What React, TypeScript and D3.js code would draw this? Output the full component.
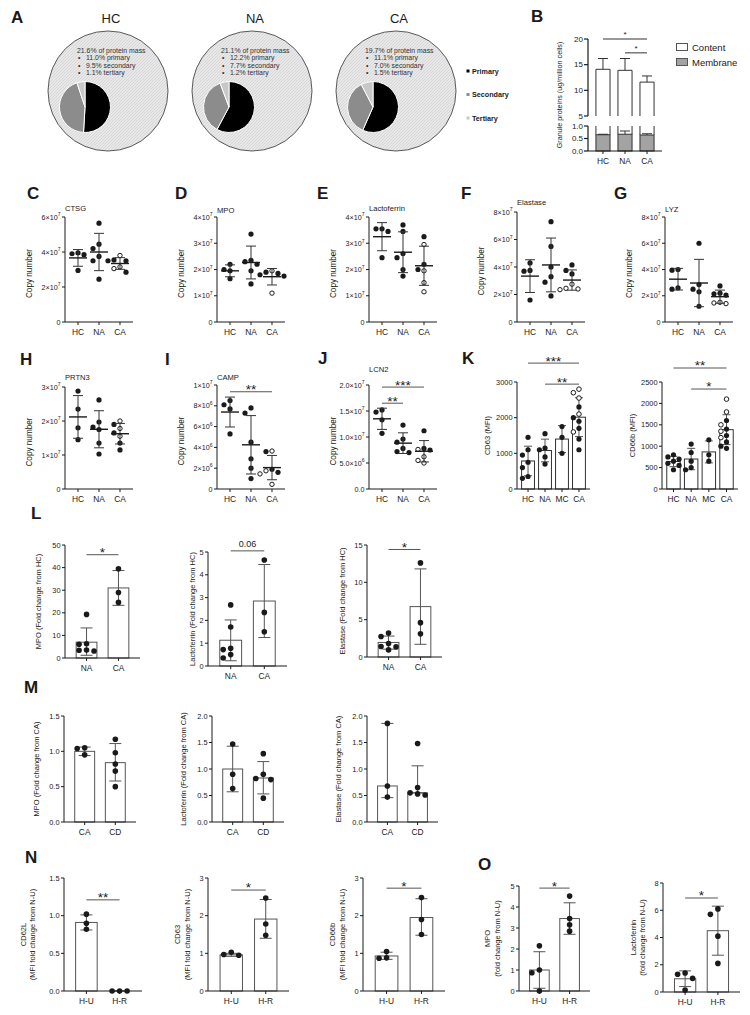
import React from "react";
import * as d3 from "d3";

const FONT = "'Liberation Sans', Arial, Helvetica, sans-serif";
const INK = "#1a1a1a";
const GREY = "#555555";

// ---------- A: granule share of protein mass
const pieCohorts = ["HC", "NA", "CA"];
const proteinMass = ["21.6%", "21.1%", "19.7%"];
const primaryPct = [11.0, 12.2, 11.1];
const secondaryPct = [9.5, 7.7, 7.0];
const tertiaryPct = [1.1, 1.2, 1.5];
const granuleTypes = ["Primary", "Secondary", "Tertiary"];

// ---------- B: granule proteins (ug/million cells)
const bCohorts = ["HC", "NA", "CA"];
const contentMean = [14.1, 13.9, 11.6];
const contentSd = [2.1, 2.3, 1.2];
const membraneMean = [0.65, 0.67, 0.64];
const membraneSd = [0.02, 0.13, 0.05];
const bUpperTicks = [5, 10, 15, 20];
const bLowerTicks = [0, 0.5, 1.0];
const bLowerLabels = ["0.0", "0.5", "1.0"];

// ---------- C-J: copy numbers (filled = closed symbols, open = open symbols)
const cohorts = ["HC", "NA", "CA"];
const ctsgFilled = [[3.95, 3.9, 3.85, 2.95], [5.65, 4.45, 4.2, 3.75, 3.5, 2.45], [3.55, 3.5, 3.5, 2.85]];
const ctsgOpen = [[], [], [3.8, 3.15, 3.05]];
const ctsgTicks = [0, 2, 4, 6];
const ctsgLabels = ["0", "2×10^7", "4×10^7", "6×10^7"];

const mpoFilled = [[2.2, 2.0, 1.95, 1.65], [3.35, 2.35, 2.3, 2.2, 1.95, 1.45], [1.9, 1.85, 1.8, 1.75]];
const mpoOpen = [[], [], [1.95, 1.1]];
const e7Ticks4 = [0, 1, 2, 3, 4];
const e7Labels4 = ["0", "1×10^7", "2×10^7", "3×10^7", "4×10^7"];

const ltfFilled = [[3.55, 3.55, 3.45, 2.45], [3.7, 3.45, 2.6, 2.45, 2.0, 1.75], [3.25, 2.2, 2.0]];
const ltfOpen = [[], [], [2.95, 1.95, 1.5, 1.15]];

const elaFilled = [[4.3, 3.75, 3.7, 1.6], [7.3, 5.5, 4.0, 3.3, 2.9, 1.9], [4.15, 3.75, 3.5]];
const elaOpen = [[], [], [2.75, 2.45, 2.4, 2.35]];
const e7Ticks8 = [0, 2, 4, 6, 8];
const e7Labels8 = ["0", "2×10^7", "4×10^7", "6×10^7", "8×10^7"];

const lyzFilled = [[4.0, 3.95, 2.6, 2.5], [6.0, 2.85, 2.5, 2.3, 1.2], [2.75, 2.2, 2.15, 2.05]];
const lyzOpen = [[], [], [1.5, 1.45, 1.4]];

const prtn3Filled = [[2.88, 2.35, 1.8, 1.45], [2.62, 1.97, 1.82, 1.75, 1.35, 1.03], [1.9, 1.65, 1.35, 1.15]];
const prtn3Open = [[], [], [2.0, 1.78, 1.55]];
const prtn3Ticks = [0, 1, 2, 3];
const prtn3Labels = ["0", "1×10^7", "2×10^7", "3×10^7"];

// CAMP in units of 10^6
const campFilled = [[8.5, 8.1, 7.7, 5.3], [7.8, 7.3, 4.5, 2.9, 2.0, 1.0], [3.6, 1.9, 1.6]];
const campOpen = [[], [], [3.65, 1.75, 1.45, 0.45]];
const campTicks = [0, 2, 4, 6, 8, 10];
const campLabels = ["0", "2×10^6", "4×10^6", "6×10^6", "8×10^6", "1×10^7"];

const lcn2Filled = [[1.52, 1.48, 1.33, 1.07], [1.23, 0.96, 0.9, 0.78, 0.72, 0.7], [1.12, 0.78, 0.75]];
const lcn2Open = [[], [], [0.76, 0.62, 0.55, 0.5]];
const lcn2Ticks = [0, 0.5, 1, 1.5, 2];
const lcn2Labels = ["0.0", "5.0×10^6", "1.0×10^7", "1.5×10^7", "2.0×10^7"];

// ---------- K: surface markers (MFI)
const kCohorts = ["HC", "NA", "MC", "CA"];
const cd63Filled = [[1450, 1100, 950, 750, 600, 350, 300], [1550, 1150, 1100, 900, 700], [1750, 1450, 1000], [2300, 2000, 1900, 1700, 1400, 1100]];
const cd63Open = [[], [], [], [2800, 2700, 2550, 2100, 1600]];
const cd63Ticks = [0, 1000, 2000, 3000];
const cd66bFilled = [[800, 750, 700, 650, 600, 550, 450], [1050, 850, 650, 500, 450], [1150, 800, 650], [1600, 1400, 1250, 1100, 1000, 950]];
const cd66bOpen = [[], [], [], [2100, 1800, 1500, 1350, 1200]];
const cd66bTicks = [0, 500, 1000, 1500, 2000, 2500];

// ---------- L: fold change from HC
const lCohorts = ["NA", "CA"];
const lMpoPts = [[19.3, 6.3, 6.1, 3.5, 3.4, 3.1], [39.5, 29, 24.6]];
const lMpoBar = [7.0, 31.0];
const lMpoLo = [1.2, 23.3];
const lMpoHi = [13.3, 38.7];
const lLtfPts = [[2.68, 1.71, 0.78, 0.72, 0.5, 0.35], [4.65, 2.35, 1.5]];
const lLtfBar = [1.13, 2.85];
const lLtfLo = [0.23, 1.25];
const lLtfHi = [2.02, 4.45];
const lElaPts = [[3.2, 2.75, 1.8, 1.4, 1.35, 0.95], [12.6, 4.6, 3.1]];
const lElaBar = [1.95, 6.75];
const lElaLo = [1.05, 1.7];
const lElaHi = [2.8, 11.8];

// ---------- M: fold change from CA
const mCohorts = ["CA", "CD"];
const mMpoPts = [[1.05, 1.04, 0.95], [1.17, 0.98, 0.82, 0.72, 0.5]];
const mMpoBar = [1.0, 0.84];
const mMpoLo = [0.94, 0.58];
const mMpoHi = [1.06, 1.11];
const mLtfPts = [[1.47, 0.9, 0.63], [1.29, 0.9, 0.82, 0.8, 0.45]];
const mLtfBar = [1.0, 0.83];
const mLtfLo = [0.57, 0.53];
const mLtfHi = [1.43, 1.14];
const mElaPts = [[1.86, 0.68, 0.47], [1.48, 0.65, 0.55, 0.53, 0.51]];
const mElaBar = [0.68, 0.55];
const mElaLo = [0.46, 0.55];
const mElaHi = [1.86, 1.06];

// ---------- N, O: fold change from N-U
const nCohorts = ["H-U", "H-R"];
const nCd62lPts = [[1.02, 0.9, 0.82], [0, 0, 0]];
const nCd62lBar = [0.91, 0];
const nCd62lLo = [0.81, 0];
const nCd62lHi = [1.01, 0];
const nCd63Pts = [[1.03, 0.97, 0.95], [2.47, 1.78, 1.48]];
const nCd63Bar = [0.96, 1.91];
const nCd63Lo = [0.92, 1.4];
const nCd63Hi = [1.0, 2.43];
const nCd66bPts = [[1.05, 0.88, 0.87], [2.48, 1.9, 1.5]];
const nCd66bBar = [0.93, 1.95];
const nCd66bLo = [0.84, 1.48];
const nCd66bHi = [1.03, 2.45];
const oMpoPts = [[2.15, 1.0, 0.87, 0.0], [4.52, 3.45, 3.15, 2.85]];
const oMpoBar = [1.0, 3.45];
const oMpoLo = [0.13, 2.7];
const oMpoHi = [1.87, 4.2];
const oLtfPts = [[1.4, 1.3, 1.0, 0.15], [6.1, 5.7, 4.1, 2.1]];
const oLtfBar = [0.97, 4.5];
const oLtfLo = [0.4, 2.7];
const oLtfHi = [1.55, 6.3];

type Pt = { v: number; open: boolean };
type Sig = { a: string; b: string; at: number; label: string };

const asPts = (filled: number[][], open?: number[][]): Pt[][] =>
  filled.map((f, i) => [
    ...f.map((v) => ({ v, open: false })),
    ...((open && open[i]) || []).map((v) => ({ v, open: true })),
  ]);

// simple beeswarm so that tied values sit side by side
function swarm(pts: Pt[], y: (v: number) => number, r: number, step: number) {
  const placed: { dx: number; py: number; open: boolean }[] = [];
  [...pts].sort((a, b) => b.v - a.v).forEach((p) => {
    const py = y(p.v);
    let dx = 0;
    for (let k = 0; k < 14; k++) {
      const cand = k === 0 ? 0 : (k % 2 ? -1 : 1) * Math.ceil(k / 2) * step;
      if (placed.every((q) => Math.hypot(q.dx - cand, q.py - py) >= 2 * r + 0.4)) {
        dx = cand;
        break;
      }
    }
    placed.push({ dx, py, open: p.open });
  });
  return placed;
}

const Letter = ({ x, y, t }: any) => (
  <text x={x} y={y} fontSize={17} fontWeight="bold" fill={INK}>{t}</text>
);

function TickLabel({ x, y, label, size }: any) {
  const [base, exp] = String(label).split("^");
  return (
    <text x={x} y={y} textAnchor="end" dominantBaseline="central" fontSize={size} fill={INK}>
      {base}
      {exp !== undefined && (
        <tspan fontSize={size * 0.7} dy={-size * 0.38}>{exp}</tspan>
      )}
    </text>
  );
}

function RotLabel({ x, y, text, size = 7.6 }: any) {
  return (
    <text transform={`translate(${x},${y}) rotate(-90)`} textAnchor="middle" dominantBaseline="central" fontSize={size} fill={INK}>
      {text}
    </text>
  );
}

function YAxis({ x0, x1, yZero, yTop, y, ticks, labels, size = 7.2 }: any) {
  return (
    <g>
      <line x1={x0} x2={x0} y1={yZero} y2={yTop} stroke={INK} strokeWidth={1} />
      <line x1={x0} x2={x1} y1={yZero} y2={yZero} stroke={INK} strokeWidth={1} />
      {ticks.map((t: number, i: number) => (
        <g key={i}>
          <line x1={x0 - 3} x2={x0} y1={y(t)} y2={y(t)} stroke={INK} strokeWidth={1} />
          <TickLabel x={x0 - 4.5} y={y(t)} label={labels[i]} size={size} />
        </g>
      ))}
    </g>
  );
}

function SigMark({ x1, x2, y, label, size = 13.5 }: any) {
  const isStar = label.includes("*");
  return (
    <g>
      <line x1={x1} x2={x2} y1={y} y2={y} stroke={GREY} strokeWidth={1} />
      <text x={(x1 + x2) / 2} y={isStar ? y + size * 0.18 : y - 4} textAnchor="middle" fontSize={isStar ? size : 9} fill={INK}>
        {label}
      </text>
    </g>
  );
}

// ---------- copy number dot plots (mean ± SD)
function DotPanel(p: any) {
  const x = d3.scalePoint<string>().domain(p.groups).range([p.x0, p.x0 + p.len]).padding(0.62);
  const y = d3.scaleLinear().domain([0, p.max]).range([p.yZero, p.yTop]);
  const pts = asPts(p.filled, p.open);
  return (
    <g>
      <YAxis x0={p.x0} x1={p.x0 + p.len} yZero={p.yZero} yTop={p.yTop} y={y} ticks={p.ticks} labels={p.labels} />
      <text x={p.x0} y={p.titleY} dominantBaseline="central" fontSize={7.6} fill={INK}>{p.title}</text>
      <RotLabel x={p.x0 - 36} y={(p.yZero + p.yTop) / 2 + 4} text="Copy number" size={8.2} />
      {p.groups.map((g: string, gi: number) => {
        const cx = x(g)!;
        const vals = pts[gi].map((d) => d.v);
        const m = d3.mean(vals)!;
        const sd = d3.deviation(vals) || 0;
        return (
          <g key={g}>
            <line x1={cx} x2={cx} y1={p.yZero} y2={p.yZero + 3} stroke={INK} />
            <text x={cx} y={p.yZero + 10} textAnchor="middle" dominantBaseline="central" fontSize={8.4} fill={INK}>{g}</text>
            {swarm(pts[gi], y, 2.6, 6).map((q, k) => (
              <circle key={k} cx={cx + q.dx} cy={q.py} r={q.open ? 2.2 : 2.6} fill={q.open ? "#fff" : INK} stroke={INK} strokeWidth={q.open ? 1 : 0} />
            ))}
            <line x1={cx} x2={cx} y1={y(m - sd)} y2={y(m + sd)} stroke="#333" strokeWidth={1} />
            <line x1={cx - 5} x2={cx + 5} y1={y(m - sd)} y2={y(m - sd)} stroke="#333" strokeWidth={1} />
            <line x1={cx - 5} x2={cx + 5} y1={y(m + sd)} y2={y(m + sd)} stroke="#333" strokeWidth={1} />
            <line x1={cx - 9} x2={cx + 9} y1={y(m)} y2={y(m)} stroke={INK} strokeWidth={1.4} />
          </g>
        );
      })}
      {(p.sigs || []).map((s: Sig, i: number) => (
        <SigMark key={i} x1={x(s.a)!} x2={x(s.b)!} y={y(s.at)} label={s.label} />
      ))}
    </g>
  );
}

// ---------- bar + dots + error bar panels
function BarPanel(p: any) {
  const x = d3.scaleBand<string>().domain(p.groups).range([p.x0, p.x1]).paddingInner(p.pi ?? 0.35).paddingOuter(p.po ?? 0.35);
  const y = d3.scaleLinear().domain([0, p.max]).range([p.yZero, p.yTop]);
  const bw = x.bandwidth();
  const cap = p.cap ?? 6;
  const mid = (p.yZero + p.yTop) / 2;
  return (
    <g>
      {p.groups.map((g: string, gi: number) => {
        const bx = x(g)!;
        const cx = bx + bw / 2;
        return (
          <g key={g}>
            <rect x={bx} y={y(p.bar[gi])} width={bw} height={p.yZero - y(p.bar[gi])} fill="#fff" stroke={p.barStroke ?? GREY} strokeWidth={1} />
            <line x1={cx} x2={cx} y1={y(p.lo[gi])} y2={y(p.hi[gi])} stroke={GREY} strokeWidth={1} />
            <line x1={cx - cap} x2={cx + cap} y1={y(p.lo[gi])} y2={y(p.lo[gi])} stroke={GREY} strokeWidth={1} />
            <line x1={cx - cap} x2={cx + cap} y1={y(p.hi[gi])} y2={y(p.hi[gi])} stroke={GREY} strokeWidth={1} />
            {swarm(p.pts[gi], y, p.r ?? 2.8, p.step ?? 7.5).map((q, k) => (
              <circle key={k} cx={cx + q.dx} cy={q.py} r={q.open ? 2.3 : p.r ?? 2.8} fill={q.open ? "#fff" : INK} stroke={INK} strokeWidth={q.open ? 1 : 0} />
            ))}
            <line x1={cx} x2={cx} y1={p.yZero} y2={p.yZero + 3} stroke={INK} />
            <text x={cx} y={p.yZero + 10} textAnchor="middle" dominantBaseline="central" fontSize={8.4} fill={INK}>{g}</text>
          </g>
        );
      })}
      <YAxis x0={p.x0} x1={p.x1} yZero={p.yZero} yTop={p.yTop} y={y} ticks={p.ticks} labels={p.labels} size={7.4} />
      {p.ylabel.map((t: string, i: number) => (
        <RotLabel key={i} x={p.ylabelX[i]} y={mid} text={t} size={7.5} />
      ))}
      {(p.sigs || []).map((s: Sig, i: number) => (
        <SigMark key={i} x1={x(s.a)! + bw / 2} x2={x(s.b)! + bw / 2} y={y(s.at)} label={s.label} size={p.starSize ?? 13.5} />
      ))}
    </g>
  );
}

function kStats(filled: number[][], open: number[][]) {
  const pts = asPts(filled, open);
  const m = pts.map((g) => d3.mean(g, (d) => d.v)!);
  const sd = pts.map((g) => d3.deviation(g, (d) => d.v) || 0);
  return { pts, bar: m, lo: m.map((v, i) => v - sd[i]), hi: m.map((v, i) => v + sd[i]) };
}

function PanelA() {
  const cx = d3.scalePoint<string>().domain(pieCohorts).range([108, 396]);
  const cy = 91;
  const R = 60;
  const pie = d3.pie<number>().sort(null).value((d) => d);
  const arc = d3.arc<d3.PieArcDatum<number>>().innerRadius(0).outerRadius(25.5);
  const shades = ["#000000", "#8c8c8c", "#c8c8c8"];
  return (
    <g>
      <defs>
        <pattern id="hatch" width={3} height={3} patternUnits="userSpaceOnUse">
          <rect width={3} height={3} fill="#e8e8e8" />
          <path d="M0,3 L3,0" stroke="#d3d3d3" strokeWidth={0.8} />
        </pattern>
      </defs>
      <Letter x={11} y={23} t="A" />
      {pieCohorts.map((c, i) => {
        const x = cx(c)!;
        const lines = [
          `${primaryPct[i].toFixed(1)}% primary`,
          `${secondaryPct[i].toFixed(1)}% secondary`,
          `${tertiaryPct[i].toFixed(1)}% tertiary`,
        ];
        const slices = pie([primaryPct[i], secondaryPct[i], tertiaryPct[i]]);
        return (
          <g key={c}>
            <text x={x + 3} y={23} textAnchor="middle" fontSize={13} fill={INK}>{c}</text>
            <circle cx={x} cy={cy} r={R} fill="url(#hatch)" stroke="#333" strokeWidth={0.8} />
            <text x={x - 31} y={cy - 38.5} fontSize={6.9} fill="#333">{proteinMass[i]} of protein mass</text>
            {lines.map((t, k) => (
              <g key={k}>
                <text x={x - 30} y={cy - 31 + k * 7.5} fontSize={6.9} fill="#333">•</text>
                <text x={x - 22} y={cy - 31 + k * 7.5} fontSize={6.9} fill="#333">{t}</text>
              </g>
            ))}
            <g transform={`translate(${x - 23},${cy + 16})`}>
              {slices.map((s, k) => (
                <path key={k} d={arc(s)!} fill={shades[k]} stroke="#fff" strokeWidth={1} />
              ))}
            </g>
          </g>
        );
      })}
      {granuleTypes.map((t, k) => (
        <g key={t}>
          <rect x={466.5} y={69.5 + k * 23.5} width={3} height={3} fill={shades[k]} />
          <text x={472} y={71 + k * 23.5} dominantBaseline="central" fontSize={7.2} fontWeight="bold" fill={INK}>{t}</text>
        </g>
      ))}
    </g>
  );
}

function PanelB() {
  const x0 = 588;
  const x1 = 662;
  const x = d3.scaleBand<string>().domain(bCohorts).range([x0, x1]).paddingInner(0.36).paddingOuter(0.36);
  const yU = d3.scaleLinear().domain([5, 20]).range([116, 39]);
  const yL = d3.scaleLinear().domain([0, 1]).range([151, 126]);
  const bw = x.bandwidth();
  const c = (g: string) => x(g)! + bw / 2;
  return (
    <g>
      <Letter x={531} y={22} t="B" />
      {bCohorts.map((g, i) => {
        const bx = x(g)!;
        const cx = c(g);
        const top = yU(contentMean[i]);
        const err = yU(contentMean[i] + contentSd[i]);
        const mt = yL(membraneMean[i]);
        const me = yL(membraneMean[i] + membraneSd[i]);
        return (
          <g key={g}>
            <path d={`M${bx},${yU(5)}V${top}H${bx + bw}V${yU(5)}`} fill="#fff" stroke="#333" strokeWidth={1} />
            <line x1={cx} x2={cx} y1={top} y2={err} stroke="#333" />
            <line x1={cx - 5} x2={cx + 5} y1={err} y2={err} stroke="#333" />
            <rect x={bx} y={mt} width={bw} height={yL(0) - mt} fill="#a3a3a3" stroke="#333" strokeWidth={1} />
            <path d={`M${bx},${yL(1)}V${mt}M${bx + bw},${mt}V${yL(1)}`} fill="none" stroke="#333" strokeWidth={1} />
            <line x1={cx} x2={cx} y1={mt} y2={me} stroke="#333" />
            <line x1={cx - 5} x2={cx + 5} y1={me} y2={me} stroke="#333" />
            <line x1={cx} x2={cx} y1={yL(0)} y2={yL(0) + 3} stroke={INK} />
            <text x={cx} y={yL(0) + 10} textAnchor="middle" dominantBaseline="central" fontSize={8.4} fill={INK}>{g}</text>
          </g>
        );
      })}
      <line x1={x0} x2={x0} y1={yU(5)} y2={yU(20)} stroke={INK} strokeWidth={1.2} />
      <line x1={x0} x2={x0} y1={yL(0)} y2={yL(1)} stroke={INK} strokeWidth={1.2} />
      <line x1={x0} x2={x1} y1={yL(0)} y2={yL(0)} stroke={INK} strokeWidth={1.2} />
      {bUpperTicks.map((t) => (
        <g key={t}>
          <line x1={x0 - 4} x2={x0} y1={yU(t)} y2={yU(t)} stroke={INK} strokeWidth={1.2} />
          <TickLabel x={x0 - 5} y={yU(t)} label={String(t)} size={8} />
        </g>
      ))}
      {bLowerTicks.map((t, i) => (
        <g key={t}>
          <line x1={x0 - 4} x2={x0} y1={yL(t)} y2={yL(t)} stroke={INK} strokeWidth={1.2} />
          <TickLabel x={x0 - 5} y={yL(t)} label={bLowerLabels[i]} size={8} />
        </g>
      ))}
      <RotLabel x={559} y={95} text="Granule proteins (ug/million cells)" size={7.2} />
      <line x1={c("HC")} x2={c("CA")} y1={yU(20)} y2={yU(20)} stroke="#333" />
      <text x={(c("HC") + c("CA")) / 2} y={yU(20) - 2} textAnchor="middle" fontSize={8} fill={INK}>*</text>
      <line x1={c("NA")} x2={c("CA")} y1={yU(17.3)} y2={yU(17.3)} stroke="#333" />
      <text x={(c("NA") + c("CA")) / 2} y={yU(17.3) - 2} textAnchor="middle" fontSize={8} fill={INK}>*</text>
      <rect x={676.5} y={43.5} width={11} height={7} fill="#fff" stroke="#555" />
      <text x={692} y={47} dominantBaseline="central" fontSize={9.5} fill={INK}>Content</text>
      <rect x={676.5} y={58.5} width={11} height={7} fill="#a3a3a3" stroke="#555" />
      <text x={692} y={62} dominantBaseline="central" fontSize={9.5} fill={INK}>Membrane</text>
    </g>
  );
}

export default function App() {
  const k63 = kStats(cd63Filled, cd63Open);
  const k66 = kStats(cd66bFilled, cd66bOpen);
  return (
    <svg width={750} height={1015} viewBox="0 0 750 1015" fontFamily={FONT} style={{ position: "absolute", left: 0, top: 0, background: "#fff" }}>
      <rect width={750} height={1015} fill="#fff" />
      <PanelA />
      <PanelB />

      <Letter x={27} y={199} t="C" />
      <DotPanel x0={65} len={68} yZero={322} yTop={217} max={6} ticks={ctsgTicks} labels={ctsgLabels} groups={cohorts} filled={ctsgFilled} open={ctsgOpen} title="CTSG" titleY={208} />
      <Letter x={175} y={199} t="D" />
      <DotPanel x0={217} len={68} yZero={322} yTop={217} max={4} ticks={e7Ticks4} labels={e7Labels4} groups={cohorts} filled={mpoFilled} open={mpoOpen} title="MPO" titleY={210} />
      <Letter x={317} y={199} t="E" />
      <DotPanel x0={369} len={68} yZero={322} yTop={217} max={4} ticks={e7Ticks4} labels={e7Labels4} groups={cohorts} filled={ltfFilled} open={ltfOpen} title="Lactoferrin" titleY={208} />
      <Letter x={461} y={199} t="F" />
      <DotPanel x0={517} len={68} yZero={322} yTop={212} max={8} ticks={e7Ticks8} labels={e7Labels8} groups={cohorts} filled={elaFilled} open={elaOpen} title="Elastase" titleY={202} />
      <Letter x={614} y={199} t="G" />
      <DotPanel x0={665} len={68} yZero={322} yTop={217} max={8} ticks={e7Ticks8} labels={e7Labels8} groups={cohorts} filled={lyzFilled} open={lyzOpen} title="LYZ" titleY={209} />

      <Letter x={20} y={365} t="H" />
      <DotPanel x0={65} len={68} yZero={489} yTop={387} max={3} ticks={prtn3Ticks} labels={prtn3Labels} groups={cohorts} filled={prtn3Filled} open={prtn3Open} title="PRTN3" titleY={377} />
      <Letter x={165} y={365} t="I" />
      <DotPanel x0={217} len={68} yZero={489} yTop={385} max={10} ticks={campTicks} labels={campLabels} groups={cohorts} filled={campFilled} open={campOpen} title="CAMP" titleY={377}
        sigs={[{ a: "HC", b: "CA", at: 9.35, label: "**" }]} />
      <Letter x={318} y={364} t="J" />
      <DotPanel x0={369} len={68} yZero={489} yTop={385} max={2} ticks={lcn2Ticks} labels={lcn2Labels} groups={cohorts} filled={lcn2Filled} open={lcn2Open} title="LCN2" titleY={369}
        sigs={[{ a: "HC", b: "CA", at: 1.96, label: "***" }, { a: "HC", b: "NA", at: 1.65, label: "**" }]} />
      <Letter x={462} y={364} t="K" />
      <BarPanel x0={517} x1={590} yZero={489} yTop={382} max={3000} ticks={cd63Ticks} labels={cd63Ticks.map(String)} groups={kCohorts}
        pts={k63.pts} bar={k63.bar} lo={k63.lo} hi={k63.hi} pi={0.24} po={0.27} r={2.6} step={5.6} cap={4} barStroke="#333"
        ylabel={["CD63 (MFI)"]} ylabelX={[487]}
        sigs={[{ a: "HC", b: "CA", at: 3530, label: "***" }, { a: "NA", b: "CA", at: 2940, label: "**" }]} />
      <BarPanel x0={662} x1={738} yZero={489} yTop={382} max={2500} ticks={cd66bTicks} labels={cd66bTicks.map(String)} groups={kCohorts}
        pts={k66.pts} bar={k66.bar} lo={k66.lo} hi={k66.hi} pi={0.24} po={0.27} r={2.6} step={5.6} cap={4} barStroke="#333"
        ylabel={["CD66b (MFI)"]} ylabelX={[632]}
        sigs={[{ a: "HC", b: "CA", at: 2827, label: "**" }, { a: "NA", b: "CA", at: 2336, label: "*" }]} />

      <Letter x={31} y={519} t="L" />
      <BarPanel x0={65} x1={140} yZero={658} yTop={545} max={50} ticks={[0, 10, 20, 30, 40, 50]} labels={["0", "10", "20", "30", "40", "50"]} groups={lCohorts}
        pts={asPts(lMpoPts)} bar={lMpoBar} lo={lMpoLo} hi={lMpoHi} ylabel={["MPO (Fold change from HC)"]} ylabelX={[38]}
        sigs={[{ a: "NA", b: "CA", at: 45.7, label: "*" }]} />
      <BarPanel x0={208} x1={287} yZero={666} yTop={552} max={5} ticks={[0, 1, 2, 3, 4, 5]} labels={["0", "1", "2", "3", "4", "5"]} groups={lCohorts}
        pts={asPts(lLtfPts)} bar={lLtfBar} lo={lLtfLo} hi={lLtfHi} ylabel={["Lactoferrin (Fold change from HC)"]} ylabelX={[192]}
        sigs={[{ a: "NA", b: "CA", at: 5.05, label: "0.06" }]} />
      <BarPanel x0={367} x1={442} yZero={657} yTop={545} max={15} ticks={[0, 5, 10, 15]} labels={["0", "5", "10", "15"]} groups={lCohorts}
        pts={asPts(lElaPts)} bar={lElaBar} lo={lElaLo} hi={lElaHi} ylabel={["Elastase (Fold change from HC)"]} ylabelX={[342]}
        sigs={[{ a: "NA", b: "CA", at: 14.4, label: "*" }]} />

      <Letter x={24} y={693} t="M" />
      <BarPanel x0={64} x1={136} yZero={822} yTop={716} max={1.5} ticks={[0, 0.5, 1, 1.5]} labels={["0.0", "0.5", "1.0", "1.5"]} groups={mCohorts}
        pts={asPts(mMpoPts)} bar={mMpoBar} lo={mMpoLo} hi={mMpoHi} ylabel={["MPO (Fold change from CA)"]} ylabelX={[36]} />
      <BarPanel x0={212} x1={284} yZero={822} yTop={716} max={2} ticks={[0, 0.5, 1, 1.5, 2]} labels={["0.0", "0.5", "1.0", "1.5", "2.0"]} groups={mCohorts}
        pts={asPts(mLtfPts)} bar={mLtfBar} lo={mLtfLo} hi={mLtfHi} ylabel={["Lactoferrin (Fold change from CA)"]} ylabelX={[183]} />
      <BarPanel x0={367} x1={438} yZero={822} yTop={716} max={2} ticks={[0, 0.5, 1, 1.5, 2]} labels={["0.0", "0.5", "1.0", "1.5", "2.0"]} groups={mCohorts}
        pts={asPts(mElaPts)} bar={mElaBar} lo={mElaLo} hi={mElaHi} ylabel={["Elastase (Fold change from CA)"]} ylabelX={[338]} />

      <Letter x={25} y={863} t="N" />
      <BarPanel x0={64} x1={142} yZero={991} yTop={878} max={1.5} ticks={[0, 0.5, 1, 1.5]} labels={["0.0", "0.5", "1.0", "1.5"]} groups={nCohorts}
        pts={asPts(nCd62lPts)} bar={nCd62lBar} lo={nCd62lLo} hi={nCd62lHi} ylabel={["CD62L", "(MFI fold change from N-U)"]} ylabelX={[23, 32]}
        sigs={[{ a: "H-U", b: "H-R", at: 1.21, label: "**" }]} />
      <BarPanel x0={208} x1={289} yZero={991} yTop={878} max={3} ticks={[0, 1, 2, 3]} labels={["0", "1", "2", "3"]} groups={nCohorts}
        pts={asPts(nCd63Pts)} bar={nCd63Bar} lo={nCd63Lo} hi={nCd63Hi} ylabel={["CD63", "(MFI fold change from N-U)"]} ylabelX={[177, 187]}
        sigs={[{ a: "H-U", b: "H-R", at: 2.68, label: "*" }]} />
      <BarPanel x0={363} x1={445} yZero={991} yTop={878} max={3} ticks={[0, 1, 2, 3]} labels={["0", "1", "2", "3"]} groups={nCohorts}
        pts={asPts(nCd66bPts)} bar={nCd66bBar} lo={nCd66bLo} hi={nCd66bHi} ylabel={["CD66b", "(MFI fold change from N-U)"]} ylabelX={[332, 342]}
        sigs={[{ a: "H-U", b: "H-R", at: 2.73, label: "*" }]} />

      <Letter x={478} y={870} t="O" />
      <BarPanel x0={519} x1={590} yZero={991} yTop={886} max={5} ticks={[0, 1, 2, 3, 4, 5]} labels={["0", "1", "2", "3", "4", "5"]} groups={nCohorts}
        pts={asPts(oMpoPts)} bar={oMpoBar} lo={oMpoLo} hi={oMpoHi} ylabel={["MPO", "(fold change from N-U)"]} ylabelX={[487, 497]}
        sigs={[{ a: "H-U", b: "H-R", at: 4.9, label: "*" }]} />
      <BarPanel x0={663} x1={740} yZero={992} yTop={883} max={8} ticks={[0, 2, 4, 6, 8]} labels={["0", "2", "4", "6", "8"]} groups={nCohorts}
        pts={asPts(oLtfPts)} bar={oLtfBar} lo={oLtfLo} hi={oLtfHi} ylabel={["Lactoferrin", "(fold change from N-U)"]} ylabelX={[633, 642]}
        sigs={[{ a: "H-U", b: "H-R", at: 6.9, label: "*" }]} />
    </svg>
  );
}
